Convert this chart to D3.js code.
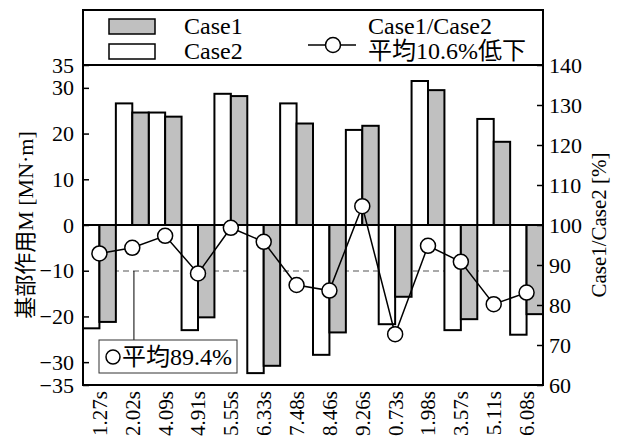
<!DOCTYPE html>
<html>
<head>
<meta charset="utf-8">
<script src="https://cdn.jsdelivr.net/npm/d3@7/dist/d3.min.js"></script>
<style>
  body { margin: 0; background: #fff; }
</style>
</head>
<body>
<div id="chart"></div>
<script>
// periods of the cases
var periods = ["1.27s", "2.02s", "4.09s", "4.91s", "5.55s", "6.33s", "7.48s",
               "8.46s", "9.26s", "0.73s", "1.98s", "3.57s", "5.11s", "6.08s"];
// base moment M [MN·m]
var case1 = [-21.2, 24.6, 23.7, -20.2, 28.2, -30.8, 22.2, -23.5, 21.7, -15.7, 29.5, -20.6, 18.2, -19.5];
var case2 = [-22.6, 26.6, 24.6, -23.0, 28.7, -32.4, 26.6, -28.4, 20.8, -21.7, 31.5, -23.0, 23.2, -24.0];
// Case1/Case2 [%]
var ratio = [92.9, 94.3, 97.3, 87.9, 99.3, 95.8, 85.0, 83.6, 104.7, 72.7, 94.8, 90.8, 80.2, 83.1];
var ratioAvg = 88.5;
var leftTicks = [-35, -30, -20, -10, 0, 10, 20, 30, 35];
var rightTicks = [60, 70, 80, 90, 100, 110, 120, 130, 140];

var FONT = "'Liberation Serif', 'Times New Roman', 'Noto Sans CJK JP', serif";

var W = 626, H = 439;
var margin = {top: 65, right: 83, bottom: 54, left: 83};
var width = W - margin.left - margin.right,
    height = H - margin.top - margin.bottom;

var svg = d3.select("#chart").append("svg")
  .attr("width", W)
  .attr("height", H);

var g = svg.append("g")
  .attr("transform", "translate(" + margin.left + "," + margin.top + ")");

var x = d3.scaleBand().domain(periods).range([0, width]).padding(0);
var yL = d3.scaleLinear().domain([-35, 35]).range([height, 0]);
var yR = d3.scaleLinear().domain([60, 140]).range([height, 0]);
var bw = x.bandwidth() / 2;

// average dashed line (behind bars)
g.append("line")
  .attr("x1", 0).attr("x2", width)
  .attr("y1", yR(ratioAvg)).attr("y2", yR(ratioAvg))
  .attr("stroke", "#555").attr("stroke-width", 1.2)
  .attr("stroke-dasharray", "6,4");

// callout for the average
var calloutX = x(periods[1]) + x.bandwidth() * 0.55;
g.append("line")
  .attr("x1", calloutX).attr("x2", calloutX)
  .attr("y1", yR(ratioAvg)).attr("y2", 275)
  .attr("stroke", "#000").attr("stroke-width", 1);
var callout = g.append("g").attr("transform", "translate(16,275)");
callout.append("rect")
  .attr("width", 138).attr("height", 33)
  .attr("fill", "#fff").attr("stroke", "#333").attr("stroke-width", 1);
callout.append("circle")
  .attr("cx", 14).attr("cy", 17).attr("r", 7)
  .attr("fill", "#fff").attr("stroke", "#000").attr("stroke-width", 1.5);
callout.append("text")
  .attr("class", "big")
  .attr("x", 23).attr("y", 17).attr("dy", "0.35em")
  .text("平均89.4%");

// bars
function barY(v) { return v >= 0 ? yL(v) : yL(0); }
function barH(v) { return Math.abs(yL(v) - yL(0)); }

g.selectAll(".case2").data(case2).enter().append("rect")
  .attr("class", "case2")
  .attr("x", function(d, i) { return x(periods[i]); })
  .attr("y", function(d) { return barY(d); })
  .attr("width", bw)
  .attr("height", function(d) { return barH(d); })
  .attr("fill", "#fff").attr("stroke", "#000").attr("stroke-width", 2);

g.selectAll(".case1").data(case1).enter().append("rect")
  .attr("class", "case1")
  .attr("x", function(d, i) { return x(periods[i]) + bw; })
  .attr("y", function(d) { return barY(d); })
  .attr("width", bw)
  .attr("height", function(d) { return barH(d); })
  .attr("fill", "#c0c0c0").attr("stroke", "#000").attr("stroke-width", 2);

// zero line
g.append("line")
  .attr("x1", 0).attr("x2", width)
  .attr("y1", yL(0)).attr("y2", yL(0))
  .attr("stroke", "#000").attr("stroke-width", 2);

// ratio line + markers
var line = d3.line()
  .x(function(d, i) { return x(periods[i]) + x.bandwidth() / 2; })
  .y(function(d) { return yR(d); });

g.append("path")
  .datum(ratio)
  .attr("d", line)
  .attr("fill", "none").attr("stroke", "#000").attr("stroke-width", 1.5);

g.selectAll(".pt").data(ratio).enter().append("circle")
  .attr("class", "pt")
  .attr("cx", function(d, i) { return x(periods[i]) + x.bandwidth() / 2; })
  .attr("cy", function(d) { return yR(d); })
  .attr("r", 7.5)
  .attr("fill", "#fff").attr("stroke", "#000").attr("stroke-width", 1.5);

// axes
var leftAxis = g.append("g")
  .call(d3.axisLeft(yL).tickValues(leftTicks).tickSize(-6).tickPadding(9).tickFormat(d3.format("d")));
var rightAxis = g.append("g")
  .attr("transform", "translate(" + width + ",0)")
  .call(d3.axisRight(yR).tickValues(rightTicks).tickSize(-6).tickPadding(6).tickFormat(d3.format("d")));

[leftAxis, rightAxis].forEach(function(a) {
  a.select(".domain").remove();
  a.attr("font-family", null).attr("font-size", null);
  a.selectAll("line").attr("stroke", "#000").attr("stroke-width", 1.5);
  a.selectAll("text").style("font-size", "22px").attr("fill", "#000");
});

// frame
g.append("rect")
  .attr("width", width).attr("height", height)
  .attr("fill", "none").attr("stroke", "#000").attr("stroke-width", 2);

// x labels (rotated)
g.selectAll(".xlab").data(periods).enter().append("text")
  .attr("class", "xlab")
  .attr("transform", function(d) {
    return "translate(" + (x(d) + x.bandwidth() / 2) + "," + (height + 6) + ") rotate(-90)";
  })
  .attr("text-anchor", "end")
  .attr("dy", "0.35em")
  .style("font-size", "21px")
  .text(function(d) { return d; });

// axis titles
svg.append("text")
  .attr("transform", "translate(25," + (margin.top + height / 2) + ") rotate(-90)")
  .attr("text-anchor", "middle").attr("dy", "0.35em")
  .style("font-size", "22px")
  .text("基部作用M [MN·m]");

svg.append("text")
  .attr("transform", "translate(599," + (margin.top + height / 2) + ") rotate(-90)")
  .attr("text-anchor", "middle").attr("dy", "0.35em")
  .style("font-size", "21px")
  .text("Case1/Case2 [%]");

// legend box
var leg = svg.append("g");
leg.append("rect")
  .attr("x", margin.left).attr("y", 10)
  .attr("width", width).attr("height", margin.top - 10)
  .attr("fill", "none").attr("stroke", "#000").attr("stroke-width", 2);

leg.append("rect")
  .attr("x", 109).attr("y", 19).attr("width", 46).attr("height", 15)
  .attr("fill", "#c0c0c0").attr("stroke", "#000").attr("stroke-width", 1.5);
leg.append("text").attr("class", "big").attr("x", 184).attr("y", 26).attr("dy", "0.35em")
  .text("Case1");

leg.append("rect")
  .attr("x", 109).attr("y", 44).attr("width", 46).attr("height", 15)
  .attr("fill", "#fff").attr("stroke", "#000").attr("stroke-width", 1.5);
leg.append("text").attr("class", "big").attr("x", 184).attr("y", 51).attr("dy", "0.35em")
  .text("Case2");

leg.append("line")
  .attr("x1", 308).attr("x2", 356).attr("y1", 45).attr("y2", 45)
  .attr("stroke", "#000").attr("stroke-width", 1.5);
leg.append("circle")
  .attr("cx", 333).attr("cy", 45).attr("r", 7.5)
  .attr("fill", "#fff").attr("stroke", "#000").attr("stroke-width", 1.5);
leg.append("text").attr("class", "big").attr("x", 368).attr("y", 26).attr("dy", "0.35em")
  .text("Case1/Case2");
leg.append("text").attr("class", "big").attr("x", 368).attr("y", 51).attr("dy", "0.35em")
  .text("平均10.6%低下");

// one font for every label
svg.selectAll("text")
  .style("font-family", FONT)
  .style("font-weight", "normal")
  .attr("fill", "#000");
svg.selectAll("text.big").style("font-size", "24px");
</script>
</body>
</html>
